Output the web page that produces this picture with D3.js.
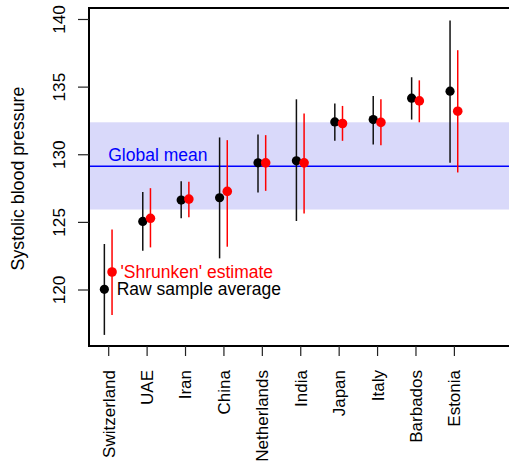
<!DOCTYPE html>
<html>
<head>
<meta charset="utf-8">
<script src="https://cdn.jsdelivr.net/npm/d3@7"></script>
<style>
  body { margin: 0; background: #fff; }
  text { font-family: "Liberation Sans", Arial, sans-serif; }
</style>
</head>
<body>
<div id="chart"></div>
<script>
var countries = ["Switzerland", "UAE", "Iran", "China", "Netherlands", "India", "Japan", "Italy", "Barbados", "Estonia"];

// raw sample average with its interval
var rawMean = [120.05, 125.07, 126.65, 126.82, 129.4, 129.55, 132.43, 132.6, 134.18, 134.7];
var rawLow  = [116.68, 122.9, 125.3, 122.34, 127.2, 125.1, 131.03, 130.76, 132.6, 129.4];
var rawHigh = [123.4, 127.24, 128.05, 131.28, 131.5, 134.1, 133.79, 134.35, 135.73, 139.92];

// 'shrunken' estimate with its interval
var shrunkMean = [121.33, 125.3, 126.72, 127.29, 129.4, 129.4, 132.31, 132.39, 133.98, 133.22];
var shrunkLow  = [118.15, 123.15, 125.37, 123.2, 127.33, 125.66, 131.03, 130.7, 132.4, 128.69];
var shrunkHigh = [124.48, 127.53, 128.0, 131.08, 131.45, 133.05, 133.61, 134.1, 135.5, 137.73];

var globalMean = 129.15;
var globalBand = [125.95, 132.4];

var yTicks = [120, 125, 130, 135, 140];

function drawChart() {
  var width = 509,
      height = 464;
  var left = 89, top = 8, right = 511.5, bottom = 346;

  var x = d3.scaleLinear().domain([0.5, 11.5]).range([left, right]);
  var y = d3.scaleLinear().domain([115.86, 140.85]).range([bottom, top]);

  var svg = d3.select("#chart")
              .append("svg")
              .attr("width", width)
              .attr("height", height);

  // shaded band round the global mean
  svg.append("rect")
     .attr("x", left)
     .attr("y", y(globalBand[1]))
     .attr("width", right - left)
     .attr("height", y(globalBand[0]) - y(globalBand[1]))
     .style("fill", "#d9d9fa");

  svg.append("line")
     .attr("x1", left).attr("x2", right)
     .attr("y1", y(globalMean)).attr("y2", y(globalMean))
     .style("stroke", "#0000ff")
     .style("stroke-width", 1.4);

  svg.append("text")
     .attr("x", x(1))
     .attr("y", y(globalMean) - 5)
     .style("font-size", "17.5px")
     .style("fill", "#0000ff")
     .text("Global mean");

  var rows = countries.map(function(c, i) {
    return { name: c, i: i + 1,
             raw: rawMean[i], rawLo: rawLow[i], rawHi: rawHigh[i],
             sh: shrunkMean[i], shLo: shrunkLow[i], shHi: shrunkHigh[i] };
  });

  var g = svg.selectAll(".country")
             .data(rows)
             .enter().append("g")
             .attr("class", "country");

  g.append("line")
   .attr("x1", function(d) { return x(d.i - 0.1); })
   .attr("x2", function(d) { return x(d.i - 0.1); })
   .attr("y1", function(d) { return y(d.rawLo); })
   .attr("y2", function(d) { return y(d.rawHi); })
   .style("stroke", "#111")
   .style("stroke-width", 1.5);

  g.append("line")
   .attr("x1", function(d) { return x(d.i + 0.1); })
   .attr("x2", function(d) { return x(d.i + 0.1); })
   .attr("y1", function(d) { return y(d.shLo); })
   .attr("y2", function(d) { return y(d.shHi); })
   .style("stroke", "#ff0000")
   .style("stroke-width", 1.5);

  g.append("circle")
   .attr("cx", function(d) { return x(d.i - 0.1); })
   .attr("cy", function(d) { return y(d.raw); })
   .attr("r", 4.6)
   .style("fill", "#000");

  g.append("circle")
   .attr("cx", function(d) { return x(d.i + 0.1); })
   .attr("cy", function(d) { return y(d.sh); })
   .attr("r", 4.8)
   .style("fill", "#ff0000");

  // labels next to the first pair
  svg.append("text")
     .attr("x", x(1.32))
     .attr("y", y(shrunkMean[0]))
     .attr("dy", "0.35em")
     .style("font-size", "17.5px")
     .style("fill", "#ff0000")
     .text("'Shrunken' estimate");

  svg.append("text")
     .attr("x", x(1.22))
     .attr("y", y(rawMean[0]))
     .attr("dy", "0.35em")
     .style("font-size", "17.5px")
     .style("fill", "#000")
     .text("Raw sample average");

  // frame
  svg.append("path")
     .attr("d", "M" + right + "," + top + "H" + left + "V" + bottom + "H" + right)
     .style("fill", "none")
     .style("stroke", "#000")
     .style("stroke-width", 2);

  // y axis
  var yAxis = svg.append("g")
                 .attr("transform", "translate(" + left + ",0)")
                 .call(d3.axisLeft(y).tickValues(yTicks).tickSize(11).tickFormat(d3.format("d")));
  yAxis.select(".domain").remove();
  yAxis.selectAll("line").style("stroke", "#222").style("stroke-width", 1.2);
  yAxis.selectAll("text")
       .attr("x", null).attr("dy", null)
       .attr("transform", function(d) { return "translate(-24," + y(d) + ") rotate(-90)"; })
       .attr("y", null)
       .style("text-anchor", "middle")
       .style("font-size", "17.2px")
       .style("font-family", "'Liberation Sans', Arial, sans-serif")
       .style("fill", "#000");
  yAxis.selectAll(".tick").attr("transform", "translate(0,0)");
  yAxis.selectAll(".tick line")
       .attr("y1", function(d) { return y(d); })
       .attr("y2", function(d) { return y(d); });

  // x axis
  var xAxis = svg.append("g")
                 .attr("transform", "translate(0," + bottom + ")")
                 .call(d3.axisBottom(x).tickValues(d3.range(1, countries.length + 1)).tickSize(10)
                         .tickFormat(function(d) { return countries[d - 1]; }));
  xAxis.select(".domain").remove();
  xAxis.selectAll("line").style("stroke", "#222").style("stroke-width", 1.2);
  xAxis.selectAll("text")
       .attr("y", null)
       .attr("dy", "0.35em")
       .attr("transform", "translate(0,24) rotate(-90)")
       .style("text-anchor", "end")
       .style("font-size", "17px")
       .style("font-family", "'Liberation Sans', Arial, sans-serif")
       .style("fill", "#000");

  svg.append("text")
     .attr("transform", "translate(24," + ((top + bottom) / 2 + 1.5) + ") rotate(-90)")
     .style("text-anchor", "middle")
     .style("font-size", "17.8px")
     .text("Systolic blood pressure");
}

drawChart();
</script>
</body>
</html>
